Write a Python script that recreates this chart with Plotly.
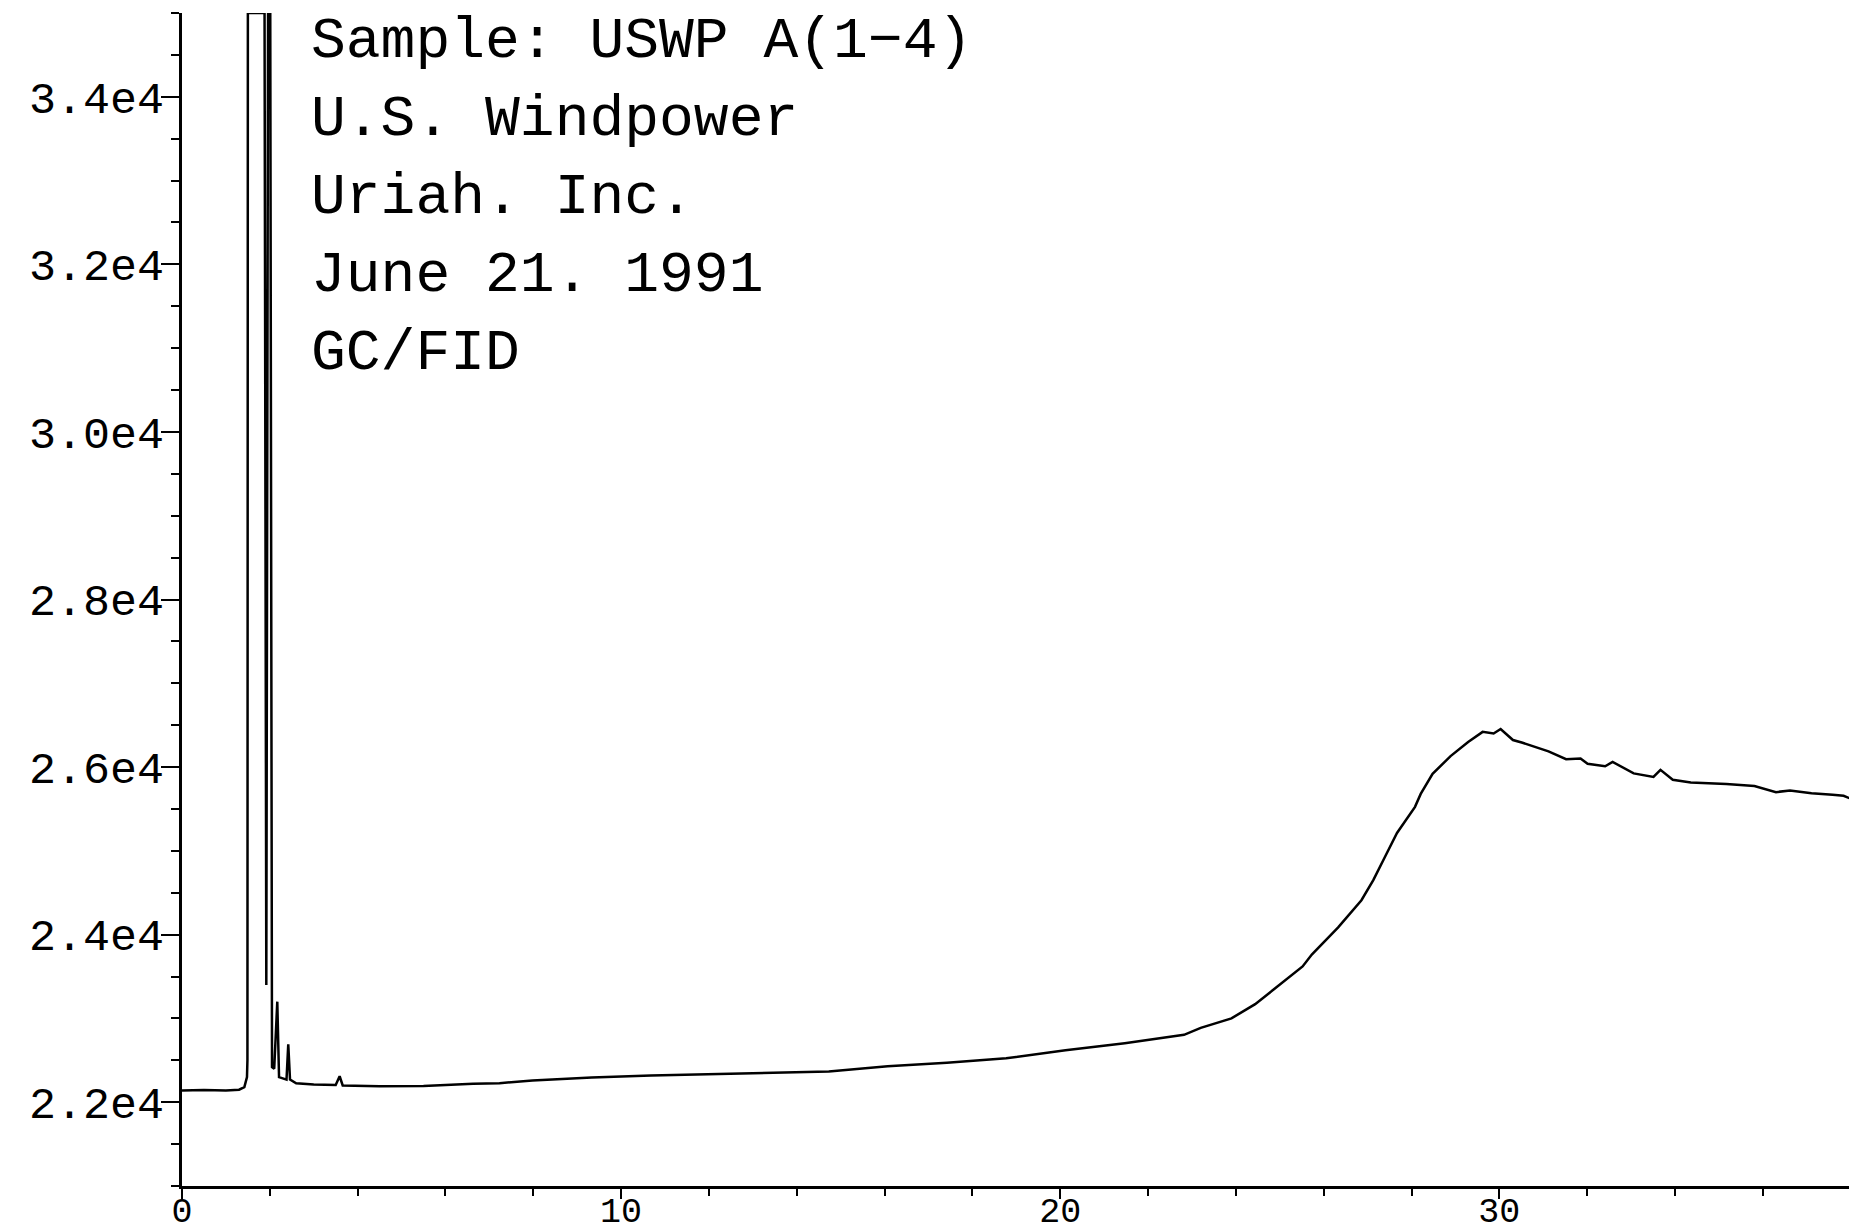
import plotly.graph_objects as go

# Retention time (min) and detector response
time_min = [0.00, 0.50, 1.00, 1.30, 1.42, 1.48, 1.49, 1.50, 1.88, 1.92, 1.96, 2.01, 2.05,
            2.10, 2.17, 2.21, 2.38, 2.42, 2.46, 2.60, 3.00, 3.50, 3.59, 3.66, 4.50, 5.50,
            6.63, 7.23, 7.98, 9.33, 10.68, 12.03, 13.38, 14.73, 16.07, 17.42, 18.77,
            20.12, 21.47, 22.82, 23.20, 23.90, 24.44, 24.98, 25.52, 25.73, 26.33, 26.86,
            27.13, 27.40, 27.67, 28.08, 28.21, 28.48, 28.89, 29.29, 29.62, 29.87, 30.03,
            30.31, 30.51, 31.12, 31.52, 31.85, 32.01, 32.41, 32.58, 33.06, 33.51, 33.67,
            33.95, 34.36, 35.17, 35.81, 36.30, 36.62, 37.11, 37.59, 37.84, 38.06]
response = [22140, 22145, 22140, 22150, 22180, 22300, 22500, 35000, 35000, 23400, 35000, 35000, 22420,
            22400, 23200, 22300, 22270, 22690, 22270, 22225, 22210, 22205, 22310, 22200, 22190, 22195,
            22220, 22226, 22260, 22296, 22320, 22335, 22350, 22367, 22430, 22470, 22525,
            22620, 22705, 22804, 22888, 23001, 23170, 23396, 23621, 23762, 24087, 24411,
            24650, 24932, 25214, 25525, 25680, 25919, 26131, 26300, 26420, 26400, 26455,
            26323, 26293, 26187, 26094, 26103, 26039, 26010, 26061, 25925, 25882, 25967,
            25849, 25815, 25797, 25773, 25701, 25721, 25688, 25671, 25658, 25610]

y_tick_vals = [22000, 24000, 26000, 28000, 30000, 32000, 34000]
y_tick_text = ["2.2e4", "2.4e4", "2.6e4", "2.8e4", "3.0e4", "3.2e4", "3.4e4"]
x_tick_vals = [0, 10, 20, 30]
x_tick_text = ["0", "10", "20", "30"]

header_lines = ["Sample: USWP A(1\u22124)", "U.S. Windpower", "Uriah. Inc.",
                "June 21. 1991", "GC/FID"]

FONT = "Liberation Mono, Courier New, monospace"

# page is drawn with the default 8px body margin
W, H = 1849, 1224
L, R, T, B = 174, 2, 5, 46
PW, PH = W - L - R, H - T - B

fig = go.Figure()
fig.add_trace(go.Scatter(x=time_min, y=response, mode="lines",
                         line=dict(color="black", width=2.5), showlegend=False,
                         hoverinfo="skip"))

fig.update_layout(
    width=W, height=H,
    margin=dict(l=L, r=R, t=T, b=B, autoexpand=False),
    paper_bgcolor="white", plot_bgcolor="white",
    font=dict(family=FONT, color="black", size=40),
    showlegend=False,
)

fig.update_xaxes(
    automargin=False,
    range=[0, 38.1], showgrid=False, zeroline=False,
    showline=True, linecolor="black", linewidth=3,
    tickmode="array", tickvals=x_tick_vals, ticktext=x_tick_text,
    ticks="outside", ticklen=10, tickwidth=2, tickcolor="black",
    ticklabelstandoff=-19,
    tickfont=dict(family=FONT, size=35, color="black"),
    minor=dict(dtick=2, tick0=0, ticks="outside", ticklen=7, tickwidth=2, tickcolor="black"),
)
fig.update_yaxes(
    automargin=False,
    range=[21000, 35000], showgrid=False, zeroline=False,
    showline=True, linecolor="black", linewidth=3,
    tickmode="array", tickvals=y_tick_vals, ticktext=y_tick_text,
    ticks="outside", ticklen=18, tickwidth=2, tickcolor="black",
    ticklabelstandoff=-12,
    tickfont=dict(family=FONT, size=45, color="black"),
    minor=dict(dtick=500, tick0=21000, ticks="outside", ticklen=8, tickwidth=2, tickcolor="black"),
)

for i, line in enumerate(header_lines):
    fig.add_annotation(
        text=line, xref="paper", yref="paper",
        x=(302 - L) / PW, y=1 - (0 + i * 78 - T) / PH,
        xanchor="left", yanchor="top", showarrow=False, borderpad=0,
        font=dict(family=FONT, size=58, color="black"),
    )

fig.write_html("out.html")
